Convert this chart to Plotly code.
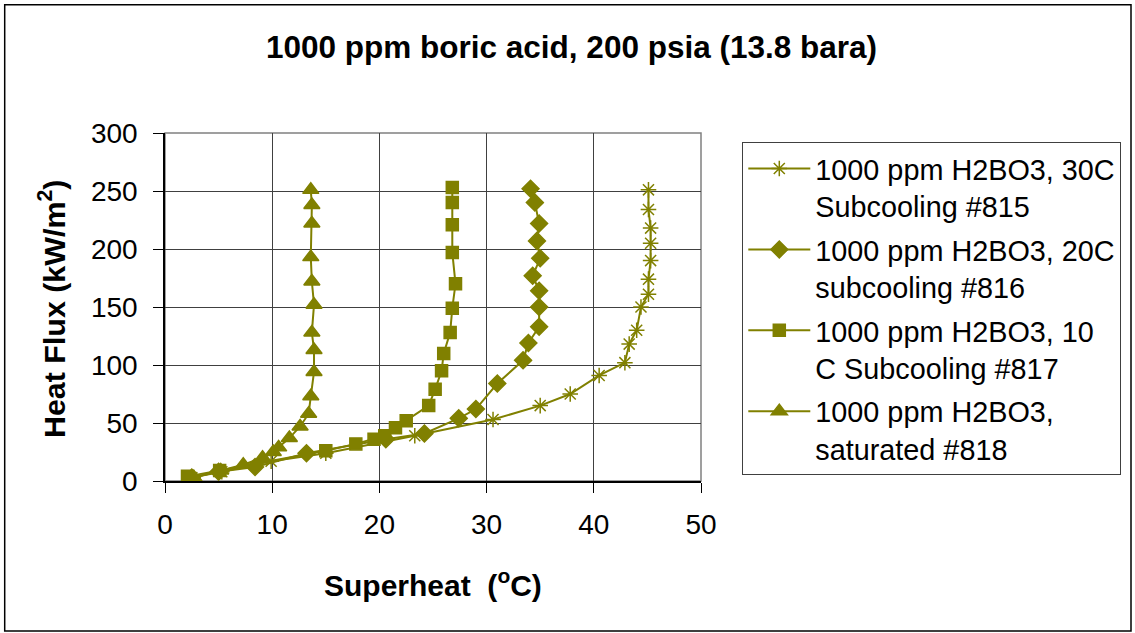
import plotly.graph_objects as go

OLIVE = "#808000"

# Series data (Superheat degC, Heat flux kW/m2)
x815 = [2.5, 5.3, 9.9, 15.0, 23.3, 30.6, 35.0, 37.8, 40.5, 42.9, 43.3, 44.0, 44.4, 45.1, 45.1, 45.3, 45.3, 45.3, 45.1, 45.1]
y815 = [3, 8, 17, 24, 39, 53, 65, 75, 91, 102, 118, 130, 150, 161, 174, 190, 205, 218, 234, 251]

x816 = [2.5, 5.0, 8.4, 13.2, 20.6, 24.2, 27.4, 29.0, 31.0, 33.4, 33.9, 34.9, 34.9, 34.9, 34.3, 35.0, 34.7, 34.9, 34.5, 34.1]
y816 = [3, 8, 12, 24, 36, 41, 54, 62, 84, 104, 119, 133, 150, 164, 177, 192, 207, 222, 240, 252]

x817 = [2.1, 5.1, 15.0, 17.8, 19.5, 20.5, 21.5, 22.5, 24.6, 25.2, 25.8, 26.0, 26.6, 26.8, 27.1, 26.8, 26.8, 26.8, 26.8]
y817 = [4, 9, 26, 32, 36, 39, 46, 52, 65, 79, 95, 110, 128, 149, 170, 197, 221, 240, 253]

x818 = [2.7, 5.2, 7.3, 9.1, 10.1, 10.6, 11.6, 12.6, 13.4, 13.6, 13.9, 13.9, 13.7, 13.9, 13.7, 13.6, 13.7, 13.7, 13.6]
y818 = [3, 9, 14, 20, 25, 29, 37, 47, 58, 73, 94, 113, 128, 152, 172, 193, 222, 238, 251]

names = [
    "1000 ppm H2BO3, 30C<br>Subcooling #815",
    "1000 ppm H2BO3, 20C<br>subcooling #816",
    "1000 ppm H2BO3, 10<br>C Subcooling #817",
    "1000 ppm H2BO3,<br>saturated #818",
]
symbols = ["asterisk-open", "diamond", "square", "triangle-up"]
sizes = [13, 13, 12, 14]

title_text = "1000 ppm boric acid, 200 psia (13.8 bara)"
x_title = "Superheat  (<sup>o</sup>C)"
y_title = "Heat Flux (kW/m<sup>2</sup>)"
x_ticks = [0, 10, 20, 30, 40, 50]
y_ticks = [0, 50, 100, 150, 200, 250, 300]

FONT = "Liberation Sans, Arial, sans-serif"

fig = go.Figure()
for i, (xs, ys, nm, sym, sz) in enumerate(zip([x815, x816, x817, x818], [y815, y816, y817, y818], names, symbols, sizes)):
    fig.add_trace(go.Scatter(
        x=xs, y=ys, name=nm, mode="lines+markers", legendgroup="g%d" % i,
        line=dict(color=OLIVE, width=2),
        marker=dict(symbol=sym, size=sz, color=OLIVE,
                    line=dict(color=OLIVE, width=1.5)),
    ))

L, R, T, B = 165, 434, 133, 152
W, H = 1135, 633
pw = W - L - R
ph = H - T - B

def px_x(p):
    return (p - L) / pw

def px_y(p):
    return (H - B - p) / ph

fig.update_layout(
    width=W, height=H,
    margin=dict(l=L, r=R, t=T, b=B, pad=0),
    paper_bgcolor="white", plot_bgcolor="white",
    font=dict(family=FONT, color="black", size=28),
    showlegend=True,
    legend=dict(
        x=px_x(742.3), y=px_y(142.3), xanchor="left", yanchor="top",
        bordercolor="#404040", borderwidth=1, bgcolor="white",
        font=dict(family=FONT, size=28.8, color="black"),
        valign="top", itemwidth=62, tracegroupgap=3,
    ),
    xaxis=dict(
        range=[0, 50], tickvals=x_ticks, ticks="outside", ticklen=10,
        tickcolor="black", tickwidth=1,
        showgrid=True, gridcolor="#404040", gridwidth=1,
        showline=True, linecolor="black", linewidth=1.5,
        zeroline=False, mirror=False, ticklabelstandoff=8,
        tickfont=dict(size=28, family=FONT),
        fixedrange=True,
    ),
    yaxis=dict(
        range=[0, 300], tickvals=y_ticks, ticks="outside", ticklen=10,
        tickcolor="black", tickwidth=1,
        showgrid=True, gridcolor="#404040", gridwidth=1,
        showline=True, linecolor="black", linewidth=1.5,
        zeroline=False, mirror=False, ticklabelstandoff=10,
        tickfont=dict(size=28, family=FONT),
        fixedrange=True,
    ),
    shapes=[
        dict(type="rect", xref="paper", yref="paper", x0=0, y0=0, x1=1, y1=1,
             line=dict(color="#808080", width=1.5), layer="below"),
        dict(type="rect", xref="paper", yref="paper",
             x0=px_x(4.7), x1=px_x(1131), y0=px_y(631), y1=px_y(4.7),
             line=dict(color="black", width=1.5)),
    ],
    annotations=[
        dict(text="<b>" + title_text + "</b>", xref="paper", yref="paper",
             x=px_x(571), y=px_y(47), xanchor="center", yanchor="middle",
             showarrow=False, font=dict(size=31.5, family=FONT)),
        dict(text="<b>" + x_title + "</b>", xref="paper", yref="paper",
             x=px_x(433), y=px_y(583), xanchor="center", yanchor="middle",
             showarrow=False, font=dict(size=30, family=FONT)),
        dict(text="<b>" + y_title + "</b>", xref="paper", yref="paper",
             x=px_x(52), y=px_y(309), xanchor="center", yanchor="middle",
             textangle=-90, showarrow=False, font=dict(size=30.4, family=FONT)),
    ],
)

fig.write_html("out.html")
